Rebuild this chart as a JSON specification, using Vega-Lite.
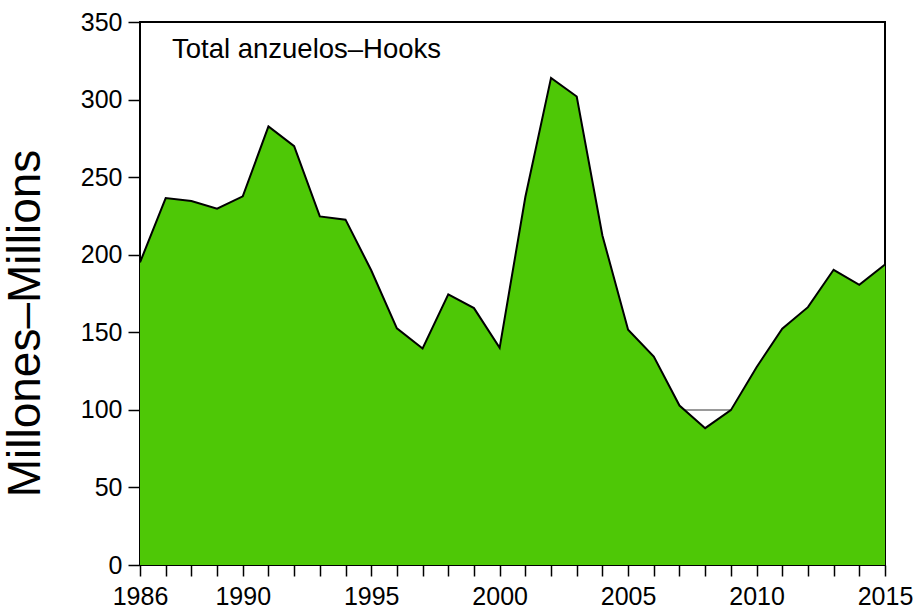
{
  "$schema": "https://vega.github.io/schema/vega-lite/v6.json",
  "autosize": "none",
  "width": 745,
  "height": 543,
  "padding": {"left": 140, "top": 22, "right": 32, "bottom": 43},
  "background": "white",
  "config": {
    "font": "Liberation Sans",
    "view": {"stroke": "black", "strokeWidth": 2}
  },
  "title": {
    "text": "Total anzuelos–Hooks",
    "frame": "group",
    "anchor": "start",
    "orient": "top",
    "baseline": "alphabetic",
    "dx": 32,
    "dy": 39,
    "offset": -36,
    "fontSize": 27.5,
    "fontWeight": "normal",
    "color": "black"
  },
  "data": {
    "values": [
      {"year": 1986, "hooks": 195},
      {"year": 1987, "hooks": 236.5},
      {"year": 1988, "hooks": 234.6},
      {"year": 1989, "hooks": 229.7},
      {"year": 1990, "hooks": 237.6},
      {"year": 1991, "hooks": 282.7},
      {"year": 1992, "hooks": 270},
      {"year": 1993, "hooks": 224.7},
      {"year": 1994, "hooks": 222.6},
      {"year": 1995, "hooks": 190},
      {"year": 1996, "hooks": 152.5},
      {"year": 1997, "hooks": 139.6},
      {"year": 1998, "hooks": 174.4},
      {"year": 1999, "hooks": 165.6},
      {"year": 2000, "hooks": 140},
      {"year": 2001, "hooks": 237.2},
      {"year": 2002, "hooks": 314},
      {"year": 2003, "hooks": 302},
      {"year": 2004, "hooks": 212.4},
      {"year": 2005, "hooks": 151.6},
      {"year": 2006, "hooks": 134.4},
      {"year": 2007, "hooks": 102.8},
      {"year": 2008, "hooks": 88.2},
      {"year": 2009, "hooks": 99.8},
      {"year": 2010, "hooks": 127.5},
      {"year": 2011, "hooks": 152.3},
      {"year": 2012, "hooks": 166.2},
      {"year": 2013, "hooks": 190.3},
      {"year": 2014, "hooks": 180.6},
      {"year": 2015, "hooks": 193.7}
    ]
  },
  "layer": [
    {
      "mark": {"type": "rule", "color": "#999999", "strokeWidth": 1},
      "encoding": {"y": {"datum": 100, "type": "quantitative"}}
    },
    {
      "mark": {"type": "area", "color": "#4EC806", "opacity": 1, "line": {"color": "black", "strokeWidth": 2}},
      "encoding": {
        "x": {
          "field": "year",
          "type": "quantitative",
          "scale": {"domain": [1986, 2015], "nice": false, "zero": false},
          "axis": {
            "title": null,
            "values": [1986,1987,1988,1989,1990,1991,1992,1993,1994,1995,1996,1997,1998,1999,2000,2001,2002,2003,2004,2005,2006,2007,2008,2009,2010,2011,2012,2013,2014,2015],
            "labelExpr": "datum.value == 1986 || datum.value % 5 == 0 ? format(datum.value, 'd') : ''",
            "labelOverlap": false,
            "labelFlush": false,
            "labelBound": false,
            "labelFontSize": 25,
            "labelColor": "black",
            "labelPadding": 8,
            "tickSize": 11,
            "tickColor": "black",
            "tickWidth": 1.5,
            "domain": false,
            "grid": false
          }
        },
        "y": {
          "field": "hooks",
          "type": "quantitative",
          "scale": {"domain": [0, 350], "nice": false},
          "axis": {
            "title": "Millones–Millions",
            "titleFontSize": 46,
            "titleFontWeight": "normal",
            "titleColor": "black",
            "titleX": -101,
            "titleY": 301,
            "titleAlign": "center",
            "titleBaseline": "alphabetic",
            "titleAngle": -90,
            "values": [0, 50, 100, 150, 200, 250, 300, 350],
            "labelFontSize": 25,
            "labelColor": "black",
            "labelPadding": 6,
            "labelFlush": false,
            "labelOverlap": false,
            "tickSize": 12,
            "tickColor": "black",
            "tickWidth": 1.5,
            "domain": false,
            "grid": false
          }
        }
      }
    }
  ]
}
